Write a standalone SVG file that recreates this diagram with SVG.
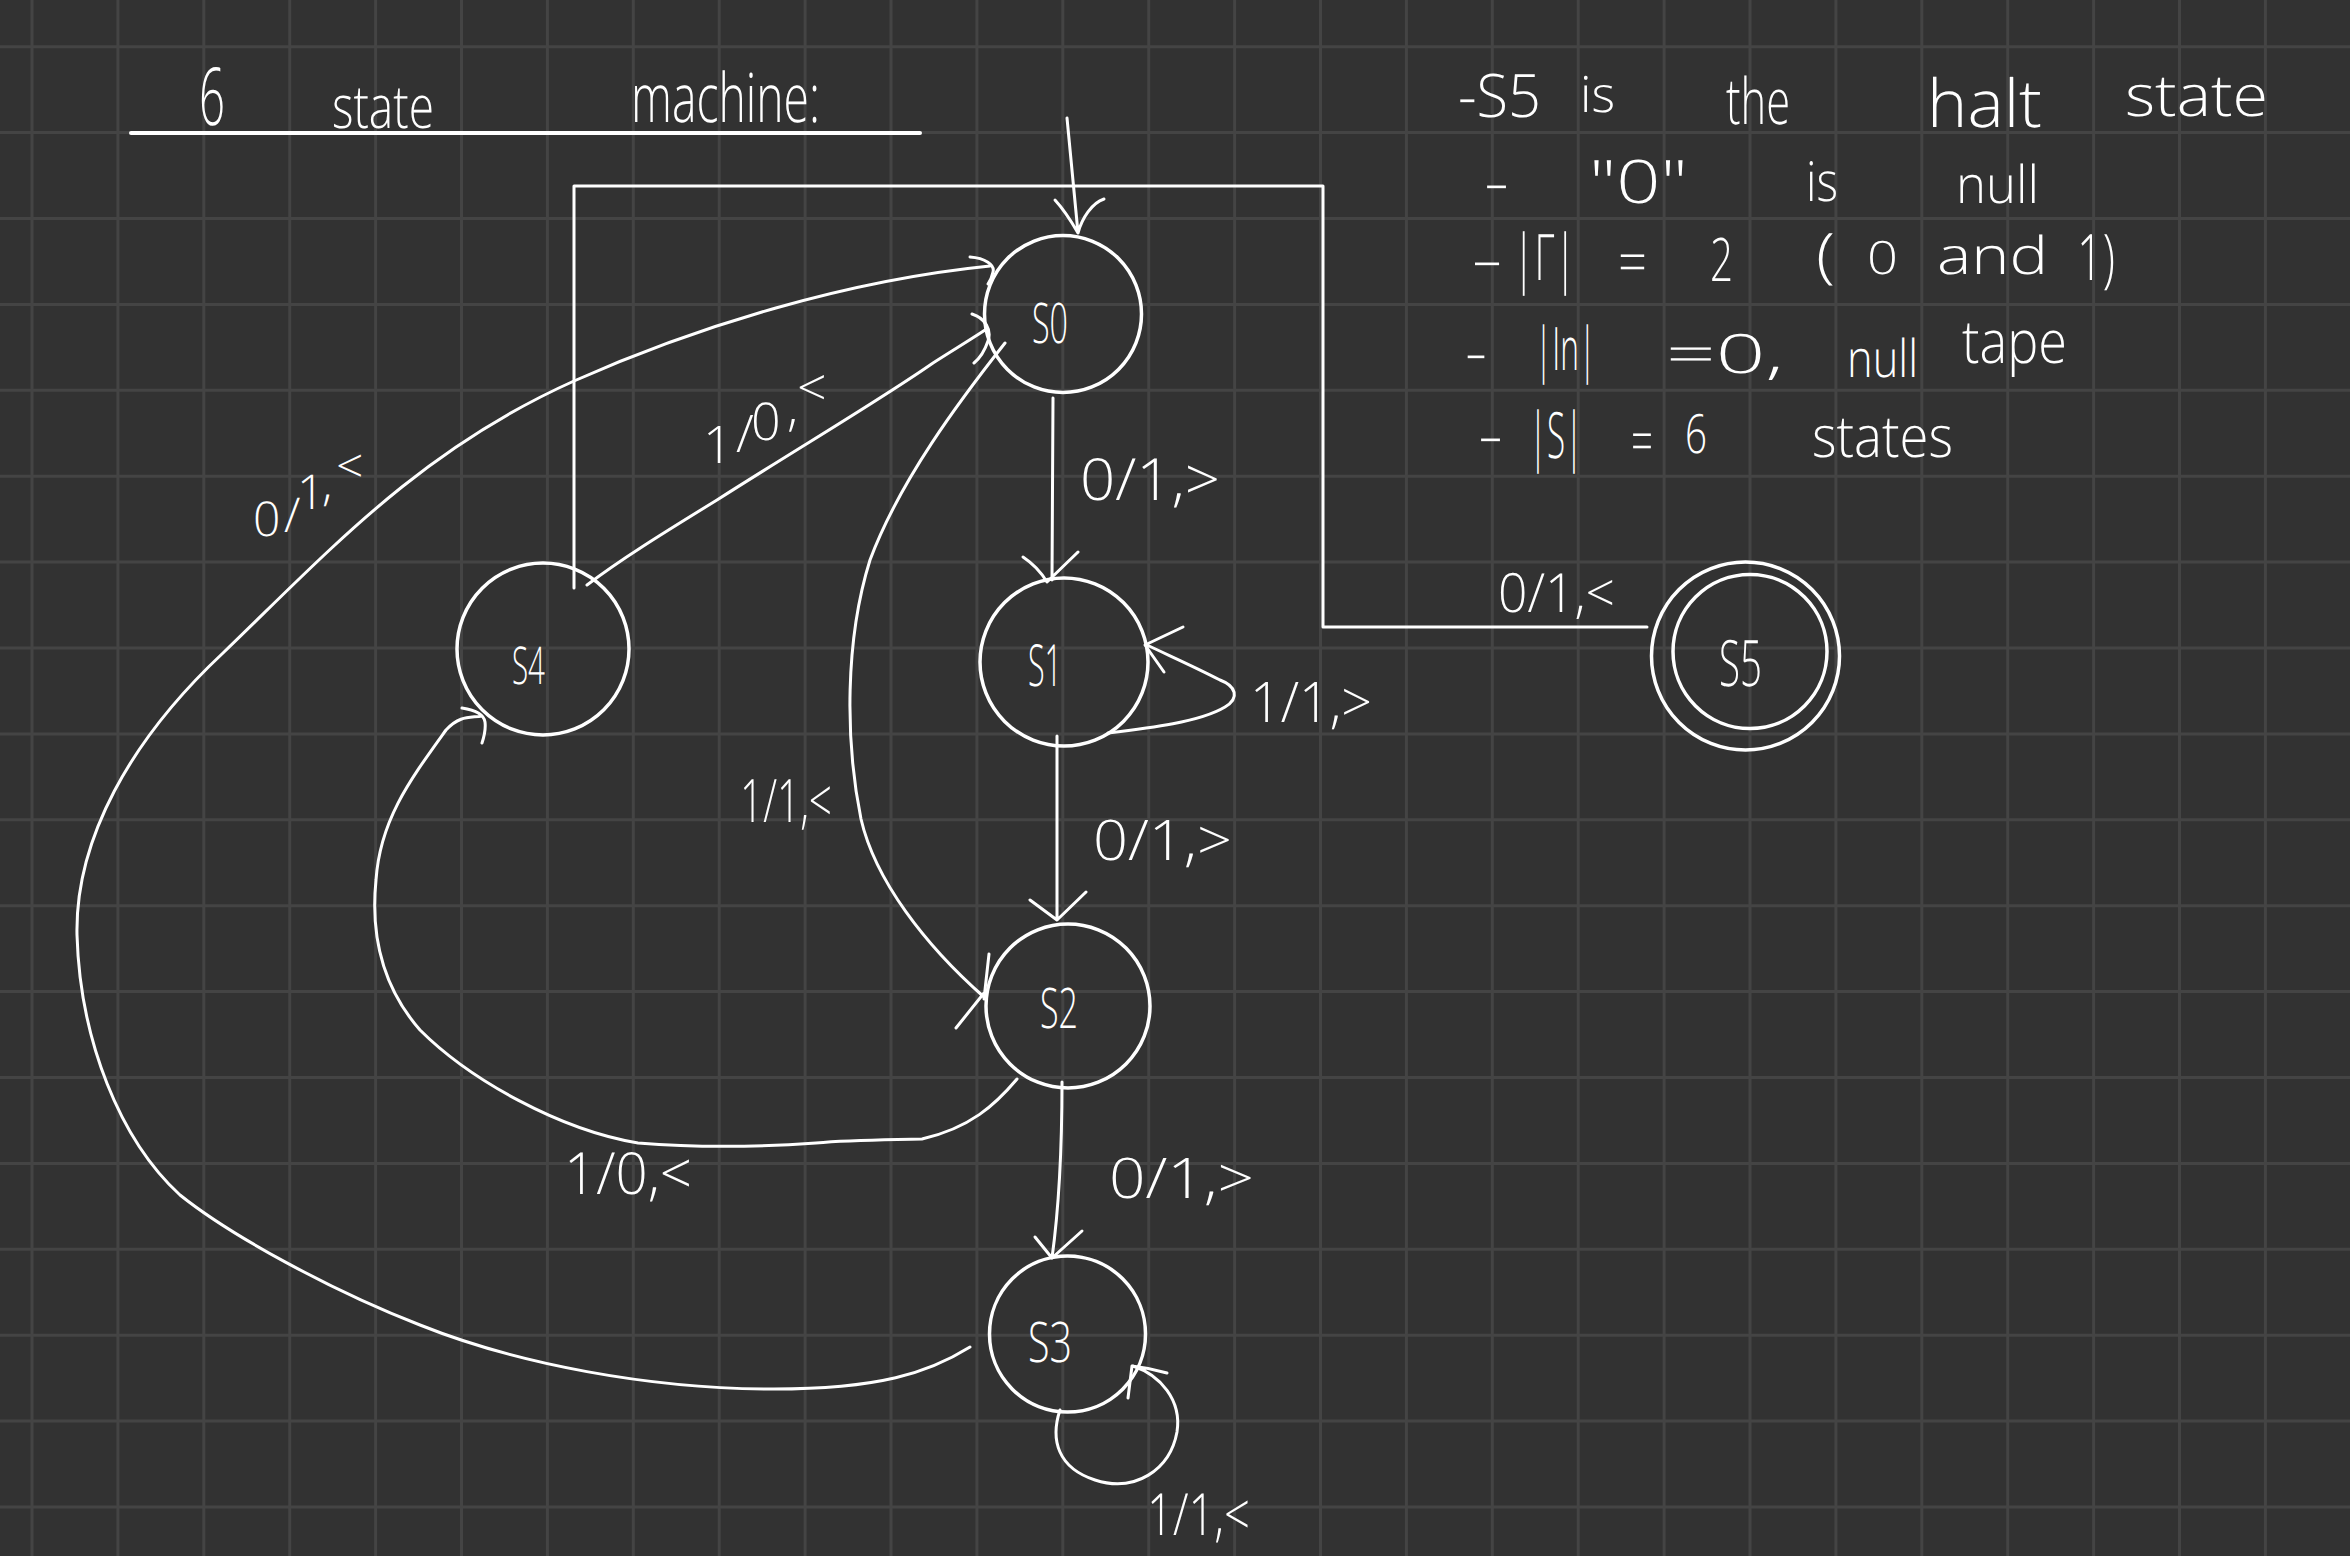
<svg xmlns="http://www.w3.org/2000/svg" width="2350" height="1556" viewBox="0 0 2350 1556">
<style>
.bg{fill:#323232}
.grid{stroke:#444444;stroke-width:3;fill:none}
.ln{stroke:#ffffff;stroke-width:3;fill:none;stroke-linecap:round;stroke-linejoin:round}
.node{stroke:#ffffff;stroke-width:3.5;fill:none}
.t{fill:#ffffff;font-family:"Open Sans","Liberation Sans",sans-serif;font-weight:300;text-rendering:geometricPrecision}
</style>
<rect class="bg" x="0" y="0" width="2350" height="1556"/>
<path class="grid" d="M32 0V1556M117.9 0V1556M203.8 0V1556M289.7 0V1556M375.6 0V1556M461.5 0V1556M547.4 0V1556M633.3 0V1556M719.2 0V1556M805.1 0V1556M891 0V1556M976.9 0V1556M1062.8 0V1556M1148.7 0V1556M1234.6 0V1556M1320.5 0V1556M1406.4 0V1556M1492.3 0V1556M1578.2 0V1556M1664.1 0V1556M1750 0V1556M1835.9 0V1556M1921.8 0V1556M2007.7 0V1556M2093.6 0V1556M2179.5 0V1556M2265.4 0V1556M0 46.7H2350M0 132.6H2350M0 218.5H2350M0 304.4H2350M0 390.3H2350M0 476.2H2350M0 562.1H2350M0 648H2350M0 733.9H2350M0 819.8H2350M0 905.7H2350M0 991.6H2350M0 1077.5H2350M0 1163.4H2350M0 1249.3H2350M0 1335.2H2350M0 1421.1H2350M0 1507H2350"/>

<g id="title" opacity="0.999">
<text class="t" x="199" y="125" font-size="80" textLength="26" lengthAdjust="spacingAndGlyphs">6</text>
<text class="t" x="332" y="128" font-size="60" textLength="102" lengthAdjust="spacingAndGlyphs">state</text>
<text class="t" x="631" y="122" font-size="68" textLength="189" lengthAdjust="spacingAndGlyphs">machine:</text>
<path class="ln" style="stroke-width:4" d="M131,133 L920,133"/>
</g>

<g id="notes" opacity="0.999">
<text class="t" x="1458" y="117" font-size="60" textLength="83" lengthAdjust="spacingAndGlyphs">-S5</text>
<text class="t" x="1580" y="112" font-size="50" textLength="35" lengthAdjust="spacingAndGlyphs">is</text>
<text class="t" x="1726" y="124" font-size="64" textLength="64" lengthAdjust="spacingAndGlyphs">the</text>
<text class="t" x="1927" y="127" font-size="66" textLength="115" lengthAdjust="spacingAndGlyphs">halt</text>
<text class="t" x="2125" y="116" font-size="58" textLength="143" lengthAdjust="spacingAndGlyphs">state</text>

<text class="t" x="1484" y="202" font-size="56" textLength="25" lengthAdjust="spacingAndGlyphs">-</text>
<text class="t" x="1589" y="203" font-size="60" textLength="99" lengthAdjust="spacingAndGlyphs">"0"</text>
<text class="t" x="1806" y="201" font-size="55" textLength="32" lengthAdjust="spacingAndGlyphs">is</text>
<text class="t" x="1956" y="203" font-size="52" textLength="83" lengthAdjust="spacingAndGlyphs">null</text>

<text class="t" x="1471" y="279" font-size="56" textLength="32" lengthAdjust="spacingAndGlyphs">-</text>
<text class="t" x="1513" y="280" font-size="64" textLength="63" lengthAdjust="spacingAndGlyphs">|Γ|</text>
<text class="t" x="1618" y="283" font-size="60" textLength="29" lengthAdjust="spacingAndGlyphs">=</text>
<text class="t" x="1710" y="281" font-size="60" textLength="23" lengthAdjust="spacingAndGlyphs">2</text>
<text class="t" x="1816" y="276" font-size="60" textLength="19" lengthAdjust="spacingAndGlyphs">(</text>
<text class="t" x="1867" y="274" font-size="46" textLength="31" lengthAdjust="spacingAndGlyphs">0</text>
<text class="t" x="1937" y="274" font-size="52" textLength="111" lengthAdjust="spacingAndGlyphs">and</text>
<text class="t" x="2077" y="280" font-size="64" textLength="38" lengthAdjust="spacingAndGlyphs">1)</text>

<text class="t" x="1465" y="372" font-size="56" textLength="22" lengthAdjust="spacingAndGlyphs">-</text>
<text class="t" x="1535" y="370" font-size="60" textLength="61" lengthAdjust="spacingAndGlyphs">|In|</text>
<text class="t" x="1666" y="373" font-size="54" textLength="118" lengthAdjust="spacingAndGlyphs">=0,</text>
<text class="t" x="1847" y="377" font-size="52" textLength="71" lengthAdjust="spacingAndGlyphs">null</text>
<text class="t" x="1962" y="363" font-size="60" textLength="105" lengthAdjust="spacingAndGlyphs">tape</text>

<text class="t" x="1478" y="455" font-size="56" textLength="25" lengthAdjust="spacingAndGlyphs">-</text>
<text class="t" x="1529" y="458" font-size="64" textLength="54" lengthAdjust="spacingAndGlyphs">|S|</text>
<text class="t" x="1631" y="462" font-size="60" textLength="22" lengthAdjust="spacingAndGlyphs">=</text>
<text class="t" x="1685" y="453" font-size="54" textLength="22" lengthAdjust="spacingAndGlyphs">6</text>
<text class="t" x="1812" y="457" font-size="58" textLength="141" lengthAdjust="spacingAndGlyphs">states</text>
</g>

<g id="connectors" opacity="0.999">
<path id="e-start" class="ln" d="M1067,118 L1078,233 M1055,200 Q1066,212 1078,233 M1104,199 C1092,203 1082,218 1078,233"/>
<path id="e-s0-s1" class="ln" d="M1053,398 L1052,580 M1023,557 Q1038,567 1047,582 L1078,552"/>
<path id="e-s1-s1" class="ln" d="M1108,733 C1150,728 1200,722 1225,707 C1240,698 1236,686 1220,680 C1195,667 1170,656 1147,645 M1183,627 L1145,645 L1164,672"/>
<path id="e-s1-s2" class="ln" d="M1057,736 L1057,918 M1030,900 L1057,920 L1086,892"/>
<path id="e-s2-s3" class="ln" d="M1062,1082 C1062,1140 1060,1200 1052,1258 M1035,1237 L1052,1258 L1082,1231"/>
<path id="e-s3-s3" class="ln" d="M1060,1410 C1050,1440 1058,1468 1095,1480 C1135,1493 1170,1470 1177,1432 C1182,1400 1160,1375 1133,1366 M1167,1373 Q1150,1368 1132,1366 L1128,1398"/>
<path id="e-s3-s0" class="ln" d="M970,1347 C930,1372 880,1390 765,1389 C650,1388 520,1365 420,1325 C330,1290 230,1235 180,1195 C120,1140 80,1040 77,935 C75,840 130,740 223,653 C330,550 420,450 574,381 C700,325 850,280 990,266 M970,257 C985,258 995,265 993,272 C992,277 990,281 988,284"/>
<path id="e-s4-s0" class="ln" d="M587,585 C620,560 660,535 717,500 C800,447 880,400 933,363 C950,352 970,340 985,330 M972,314 C985,318 992,330 988,341 C985,350 980,358 974,363"/>
<path id="e-s0-s2" class="ln" d="M1005,343 C960,400 900,480 870,560 C845,640 845,740 861,819 C875,880 925,945 984,997 M989,954 L984,999 M956,1028 L984,993"/>
<path id="e-s2-s4" class="ln" d="M1017,1079 C995,1105 970,1128 922,1139 C880,1140 850,1140 816,1143 C760,1147 700,1148 638,1143 C560,1130 470,1080 420,1030 C385,990 370,940 376,880 C380,820 410,780 446,730 C460,715 470,718 482,716 M462,708 C475,710 484,715 485,722 C486,730 484,737 482,743"/>
<path id="e-s4-s5" class="ln" d="M574,588 L574,186 L1323,186 L1323,627 L1647,627"/>

<text class="t" font-size="58" x="1080" y="500" textLength="140" lengthAdjust="spacingAndGlyphs">0/1,&gt;</text>
<text class="t" font-size="56" x="1250" y="722" textLength="122" lengthAdjust="spacingAndGlyphs">1/1,&gt;</text>
<text class="t" font-size="56" x="1093" y="860" textLength="139" lengthAdjust="spacingAndGlyphs">0/1,&gt;</text>
<text class="t" font-size="56" x="1109" y="1198" textLength="145" lengthAdjust="spacingAndGlyphs">0/1,&gt;</text>
<text class="t" font-size="58" x="1147" y="1535" textLength="103" lengthAdjust="spacingAndGlyphs">1/1,&lt;</text>
<text class="t" font-size="54" x="1498" y="612" textLength="117" lengthAdjust="spacingAndGlyphs">0/1,&lt;</text>
<text class="t" font-size="60" x="740" y="822" textLength="92" lengthAdjust="spacingAndGlyphs">1/1,&lt;</text>
<text class="t" font-size="58" x="564" y="1194" textLength="128" lengthAdjust="spacingAndGlyphs">1/0,&lt;</text>
<text class="t" font-size="48" x="253 284 297 322 336" y="536 532 509 500 483">0/1,&lt;</text>
<text class="t" font-size="52" x="703 736 751 787 797" y="463 452 440 425 406">1/0,&lt;</text>
</g>

<g id="s0" opacity="0.999">
<circle class="node" cx="1063" cy="314" r="78.5"/>
<text class="t" x="1032" y="343" font-size="56" textLength="36" lengthAdjust="spacingAndGlyphs">S0</text>
</g>
<g id="s1" opacity="0.999">
<circle class="node" cx="1064" cy="662" r="84"/>
<text class="t" x="1028" y="686" font-size="58" textLength="34" lengthAdjust="spacingAndGlyphs">S1</text>
</g>
<g id="s2" opacity="0.999">
<circle class="node" cx="1068" cy="1006" r="82"/>
<text class="t" x="1040" y="1028" font-size="56" textLength="38" lengthAdjust="spacingAndGlyphs">S2</text>
</g>
<g id="s3" opacity="0.999">
<circle class="node" cx="1067.5" cy="1334" r="78"/>
<text class="t" x="1028" y="1362" font-size="56" textLength="44" lengthAdjust="spacingAndGlyphs">S3</text>
</g>
<g id="s4" opacity="0.999">
<circle class="node" cx="543" cy="649" r="86"/>
<text class="t" x="512" y="684" font-size="52" textLength="33" lengthAdjust="spacingAndGlyphs">S4</text>
</g>
<g id="s5" opacity="0.999">
<circle class="node" cx="1745.5" cy="656" r="94"/>
<circle class="node" cx="1750" cy="651.5" r="77"/>
<text class="t" x="1719" y="686" font-size="64" textLength="43" lengthAdjust="spacingAndGlyphs">S5</text>
</g>
</svg>
